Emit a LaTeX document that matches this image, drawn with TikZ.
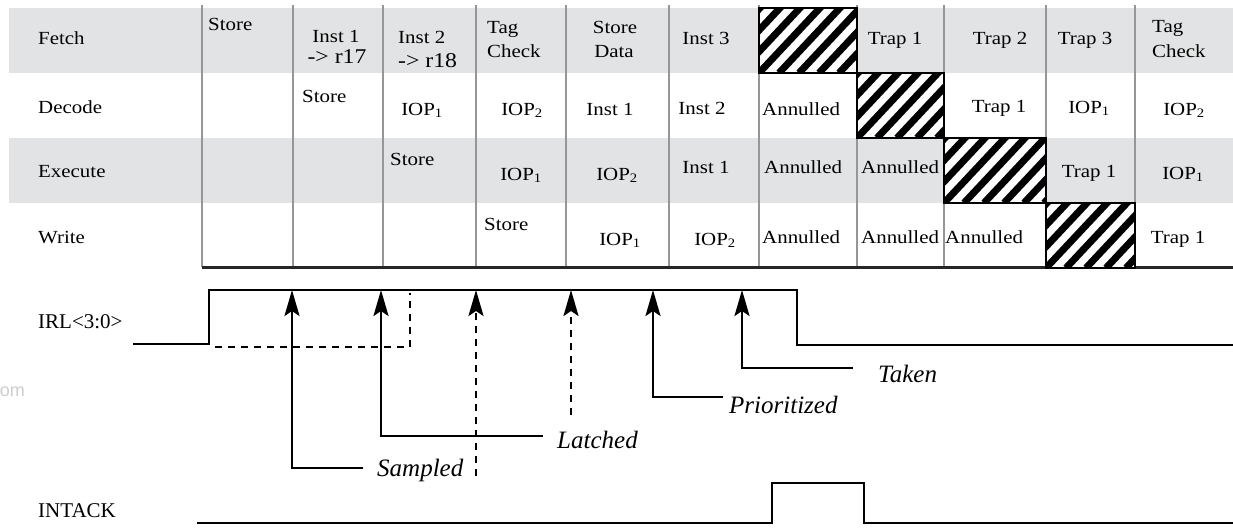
\documentclass[tikz,border=0pt]{standalone}
\usepackage{fontspec}
\setmainfont{Liberation Serif}
\newfontfamily\tabfont[FakeStretch=1.13]{Liberation Serif}
\newfontfamily\wmfont{Liberation Sans}
\usetikzlibrary{arrows.meta}
\definecolor{band}{RGB}{226,227,228}
\definecolor{grid}{RGB}{150,150,150}
\definecolor{wm}{RGB}{205,205,205}
\newcommand\hatchbox[4]{%
  \fill[white] (#1,#2) rectangle (#3,#4);
  \begin{scope}
    \clip (#1,#2) rectangle (#3,#4);
    \foreach \s in {-80,-60,...,120} {\draw[line width=7pt] (#1+\s,#4) -- ++(75,-80);}
  \end{scope}
  \draw[line width=2.5pt] (#1,#2) rectangle (#3,#4);}
\begin{document}
\begin{tikzpicture}[x=1pt,y=-1pt,
  cell/.style={inner sep=0pt, anchor=base, font=\tabfont\fontsize{18.5}{22}\selectfont},
  cellw/.style={cell, anchor=base west},
  big/.style={inner sep=0pt, anchor=base, font=\tabfont\fontsize{21}{24}\selectfont},
  siglab/.style={inner sep=0pt, anchor=base west, font=\fontsize{21}{24}\selectfont},
  lab/.style={inner sep=0pt, anchor=base west, font=\fontsize{25}{28}\selectfont\itshape},
  sig/.style={line width=2.6pt},
  dsig/.style={line width=2.4pt, dash pattern=on 7pt off 6pt},
  up/.style={-{Stealth[length=26pt,width=15pt,inset=5pt]}},
  gridline/.style={draw=grid, line width=2pt}
]
\useasboundingbox (0,0) rectangle (1233,528);
% bands
\fill[band] (9,8) rectangle (1233,73);
\fill[band] (9,138) rectangle (1233,203);
% grid
\foreach \x in {202,293,383,476,566,669,759,857,944,1046,1135}
  \draw[gridline] (\x,5) -- (\x,267);
\draw[line width=3pt, black!85] (202,267) -- (1233,267);
% hatched cells
\hatchbox{759}{8}{857}{73}
\hatchbox{857}{73}{944}{138}
\hatchbox{944}{138}{1046}{203}
\hatchbox{1046}{203}{1135}{268}
% row labels
\node[cellw] (lf) at (38,44) {Fetch};
\node[cellw] (ld) at (38,113) {Decode};
\node[cellw] (le) at (38,177) {Execute};
\node[cellw] (lw) at (38,243) {Write};
% fetch row
\node[cellw] (f1) at (208,30) {Store};
\node[cell] (f2a) at (336,42) {Inst 1};
\node[big] (f2b) at (337,63) {-> r17};
\node[cellw] (f3a) at (398,43) {Inst 2};
\node[big, anchor=base west] (f3b) at (398,67) {-> r18};
\node[cellw] (f4a) at (487,33) {Tag};
\node[cellw] (f4b) at (487,57) {Check};
\node[cell] (f5a) at (615,33) {Store};
\node[cell] (f5b) at (614,57) {Data};
\node[cell] (f6) at (706,44) {Inst 3};
\node[cell] (f8) at (895,44) {Trap 1};
\node[cell] (f9) at (1000,44) {Trap 2};
\node[cell] (f10) at (1085,44) {Trap 3};
\node[cellw] (f11a) at (1152,32) {Tag};
\node[cellw] (f11b) at (1152,57) {Check};
% decode row
\node[cellw] (d2) at (302,102) {Store};
\node[cell] (d3) at (422,115) {IOP\textsubscript{1}};
\node[cell] (d4) at (522,115) {IOP\textsubscript{2}};
\node[cell] (d5) at (610,115) {Inst 1};
\node[cell] (d6) at (702,114) {Inst 2};
\node[cellw] (d7) at (762,115) {Annulled};
\node[cell] (d9) at (999,112) {Trap 1};
\node[cell] (d10) at (1089,113) {IOP\textsubscript{1}};
\node[cell] (d11) at (1184,115) {IOP\textsubscript{2}};
% execute row
\node[cellw] (e3) at (390,165) {Store};
\node[cell] (e4) at (521,180) {IOP\textsubscript{1}};
\node[cell] (e5) at (617,180) {IOP\textsubscript{2}};
\node[cell] (e6) at (706,173) {Inst 1};
\node[cellw] (e7) at (764,173) {Annulled};
\node[cellw] (e8) at (861,173) {Annulled};
\node[cell] (e10) at (1089,177) {Trap 1};
\node[cell] (e11) at (1183,179) {IOP\textsubscript{1}};
% write row
\node[cellw] (w4) at (484,230) {Store};
\node[cell] (w5) at (620,245) {IOP\textsubscript{1}};
\node[cell] (w6) at (715,245) {IOP\textsubscript{2}};
\node[cellw] (w7) at (762,243) {Annulled};
\node[cellw] (w8) at (861,243) {Annulled};
\node[cellw] (w9) at (945,243) {Annulled};
\node[cell] (w11) at (1178,243) {Trap 1};
% watermark fragment
\node[inner sep=0pt, anchor=base east, text=wm, font=\wmfont\fontsize{18}{20}\selectfont] (wmk) at (25,396) {om};
% signal labels
\node[siglab] (irl) at (38,328) {IRL<3:0>};
\node[siglab] (intack) at (38,517) {INTACK};
% IRL waveform
\coordinate (i0) at (133,344);
\coordinate (i1) at (209,344);
\coordinate (i2) at (209,290);
\coordinate (i3) at (797,290);
\coordinate (i4) at (797,345);
\coordinate (i5) at (1233,345);
\draw[sig] (i0) -- (i1) -- (i2) -- (i3) -- (i4) -- (i5);
\coordinate (q0) at (215,347);
\coordinate (q1) at (410,347);
\coordinate (q2) at (410,293);
\draw[dsig] (q0) -- (q1) -- (q2);
% arrows and labels
\node[lab] (sampled) at (377,476) {Sampled};
\node[lab] (latched) at (557,448) {Latched};
\node[lab] (prio) at (729,413) {Prioritized};
\node[lab] (taken) at (878,382) {Taken};
\coordinate (sE) at (363,468); \coordinate (sT) at (292,290);
\coordinate (lE) at (543,436); \coordinate (lT) at (381,290);
\coordinate (pE) at (723,397); \coordinate (pT) at (653,290);
\coordinate (tE) at (853,368); \coordinate (tT) at (742,290);
\coordinate (a1B) at (476,476); \coordinate (a1T) at (476,290);
\coordinate (a2B) at (571,415); \coordinate (a2T) at (571,290);
\draw[sig,up] (sE) -| (sT);
\draw[sig,up] (lE) -| (lT);
\draw[sig,up] (pE) -| (pT);
\draw[sig,up] (tE) -| (tT);
\draw[dsig,up] (a1B) -- (a1T);
\draw[dsig,up] (a2B) -- (a2T);
% INTACK waveform
\coordinate (n0) at (197,523);
\coordinate (n1) at (772,523);
\coordinate (n2) at (772,483);
\coordinate (n3) at (864,483);
\coordinate (n4) at (864,523);
\coordinate (n5) at (1233,523);
\draw[sig] (n0) -- (n1) -- (n2) -- (n3) -- (n4) -- (n5);
\end{tikzpicture}
\end{document}
